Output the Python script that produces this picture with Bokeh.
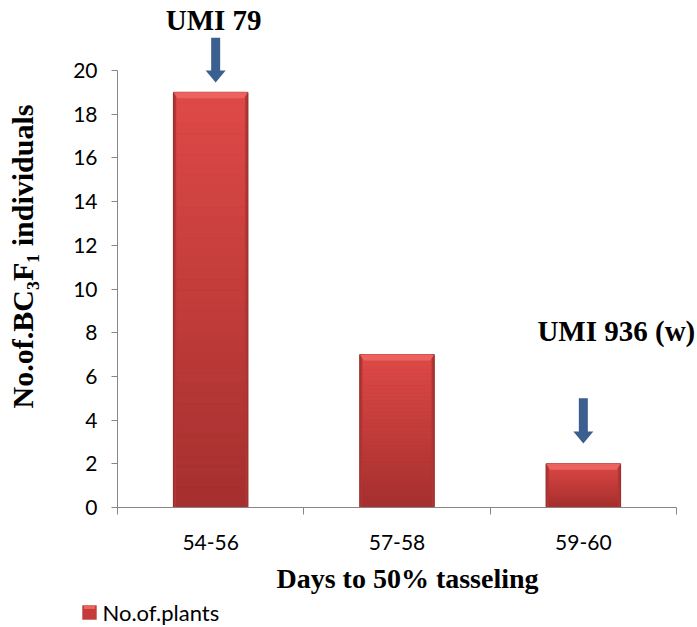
import numpy as np
from bokeh.plotting import figure
from bokeh.models import (Range1d, FixedTicker, Label, PolyAnnotation,
                          ColumnDataSource)
from bokeh.embed import file_html
from bokeh.resources import INLINE

# ---- data ----
categories = ["54-56", "57-58", "59-60"]
plants = [19, 7, 2]
y_ticks = list(range(0, 21, 2))
y_max = 20
series_name = "No.of.plants"

# marked groups: label text, arrow shaft top / tip (in counts)
marked = ["54-56", "59-60"]
marked_labels = ["UMI 79", "UMI 936 (w)"]
arrow_top = [21.5, 5.0]
arrow_tip = [19.45, 2.93]

# ---- geometry of the canvas ----
W = 697
H_main, H_leg = 600, 27
left, right, top, bottom = 117, 0, 5, 93
axis_top_px = 70            # where the value axis ends (y = 20)
axis_right_px = 676         # where the category axis ends
frame_h = H_main - top - bottom
frame_w = W - left - right
px_y = y_max / (H_main - bottom - axis_top_px)     # data units per pixel, y
px_x = len(categories) / (axis_right_px - left)    # data units per pixel, x

p = figure(width=W, height=H_main, output_backend="svg", toolbar_location=None,
           x_range=Range1d(0, frame_w * px_x), y_range=Range1d(0, frame_h * px_y),
           min_border_left=left, min_border_right=right,
           min_border_top=top, min_border_bottom=bottom)
p.outline_line_color = None
p.grid.visible = False
p.background_fill_color = "white"
p.border_fill_color = "white"

centers = [i + 0.5 for i in range(len(categories))]
bar_w = 0.40
edge = 3 * px_x

# dark outer body
p.vbar(x=centers, top=plants, width=bar_w, bottom=0,
       fill_color="#b13533", line_color="#8e2826", line_width=1)

# vertical gradient inside each bar
k = 40
c_bot = np.array([0xa5, 0x30, 0x2f])
c_top = np.array([0xdf, 0x4a, 0x47])
xs_, b_, t_, col_ = [], [], [], []
for x, v in zip(centers, plants):
    for j in range(k):
        t = (j + 0.5) / k
        c = (c_bot + (c_top - c_bot) * t).astype(int)
        xs_.append(x)
        b_.append(v * j / k)
        t_.append(v * (j + 1) / k)
        col_.append("#%02x%02x%02x" % tuple(c))
src = ColumnDataSource(dict(x=xs_, bottom=b_, top=t_, color=col_))
p.vbar(x="x", bottom="bottom", top="top", width=bar_w - 2 * edge, source=src,
       fill_color="color", line_color="color", line_width=0.6)

# lighter bevel on the top edge of each bar
bev_h = 6 * px_y
bev_d = 4 * px_x
bxs, bys = [], []
for x, v in zip(centers, plants):
    bxs.append([x - bar_w / 2, x + bar_w / 2, x + bar_w / 2 - bev_d, x - bar_w / 2 + bev_d])
    bys.append([v, v, v - bev_h, v - bev_h])
p.patches(bxs, bys, fill_color="#ea635f", line_color=None)

# ---- axes ----
xa = p.xaxis[0]
xa.bounds = (0, len(categories))
xa.ticker = FixedTicker(ticks=centers, minor_ticks=list(range(len(categories) + 1)))
xa.major_label_overrides = {c: lab for c, lab in zip(centers, categories)}
xa.major_tick_line_color = None
xa.major_tick_out = 0
xa.major_tick_in = 0
xa.minor_tick_out = 7
xa.minor_tick_in = 0
xa.minor_tick_line_color = "#868686"
xa.axis_line_color = "#868686"
xa.major_label_standoff = 20
xa.major_label_text_font = "Lato"
xa.major_label_text_font_size = "21px"
xa.major_label_text_color = "#000000"
xa.axis_label = "Days to 50% tasseling"
xa.axis_label_text_font = "Liberation Serif"
xa.axis_label_text_font_style = "bold"
xa.axis_label_text_font_size = "28px"
xa.axis_label_text_color = "#000000"
xa.axis_label_standoff = 10

ya = p.yaxis[0]
ya.bounds = (0, y_max)
ya.ticker = FixedTicker(ticks=y_ticks, minor_ticks=[])
ya.major_tick_out = 6
ya.major_tick_in = 0
ya.major_tick_line_color = "#868686"
ya.axis_line_color = "#868686"
ya.major_label_standoff = 14
ya.major_label_text_font = "Lato"
ya.major_label_text_font_size = "21px"
ya.major_label_text_color = "#000000"
ya.axis_label = "No.of.BC\u2083F\u2081 individuals"
ya.axis_label_text_font = "Liberation Serif"
ya.axis_label_text_font_style = "bold"
ya.axis_label_text_font_size = "30px"
ya.axis_label_text_color = "#000000"
ya.axis_label_standoff = 31

# ---- arrows and their labels ----
arrow_dx = [5 * px_x, 0.0]
label_pos = [(3 * px_x, 22.33), (33 * px_x, 8.1)]
sw, hw, hl = 4.5 * px_x, 10 * px_x, 12 * px_y
for cat, lab, yt, yb, dx, (lx, ly) in zip(marked, marked_labels, arrow_top,
                                          arrow_tip, arrow_dx, label_pos):
    x = categories.index(cat) + 0.5 + dx
    p.add_layout(PolyAnnotation(
        xs=[x - sw, x + sw, x + sw, x + hw, x, x - hw, x - sw],
        ys=[yt, yt, yb + hl, yb + hl, yb, yb + hl, yb + hl],
        fill_color="#3b5f8e", fill_alpha=1, line_color=None))
    p.add_layout(Label(x=categories.index(cat) + 0.5 + lx, y=ly, text=lab,
                       text_align="center", text_baseline="middle",
                       text_font="Liberation Serif", text_font_style="bold",
                       text_font_size="29px", text_color="#000000"))

# ---- legend strip below the chart (its own root, ranges in page pixels) ----
q = figure(width=W, height=H_leg, output_backend="svg", toolbar_location=None,
           x_range=Range1d(0, W), y_range=Range1d(0, H_leg),
           min_border_left=0, min_border_right=0,
           min_border_top=0, min_border_bottom=0)
q.axis.visible = False
q.grid.visible = False
q.outline_line_color = None
q.background_fill_color = "white"
q.border_fill_color = "white"
q.add_layout(PolyAnnotation(xs=[82, 96, 96, 82], ys=[8, 8, 22, 22],
                            fill_color="#c63b39", fill_alpha=1,
                            line_color="#8e2826", line_width=1))
q.add_layout(PolyAnnotation(xs=[83.5, 94.5, 94.5, 83.5], ys=[18.5, 18.5, 21.5, 21.5],
                            fill_color="#ea635f", fill_alpha=1, line_color=None))
q.add_layout(Label(x=102, y=15, text=series_name, text_align="left",
                   text_baseline="middle", text_font="Lato",
                   text_font_size="22px", text_color="#000000"))

open("out.html", "w").write(file_html([p, q], INLINE))
